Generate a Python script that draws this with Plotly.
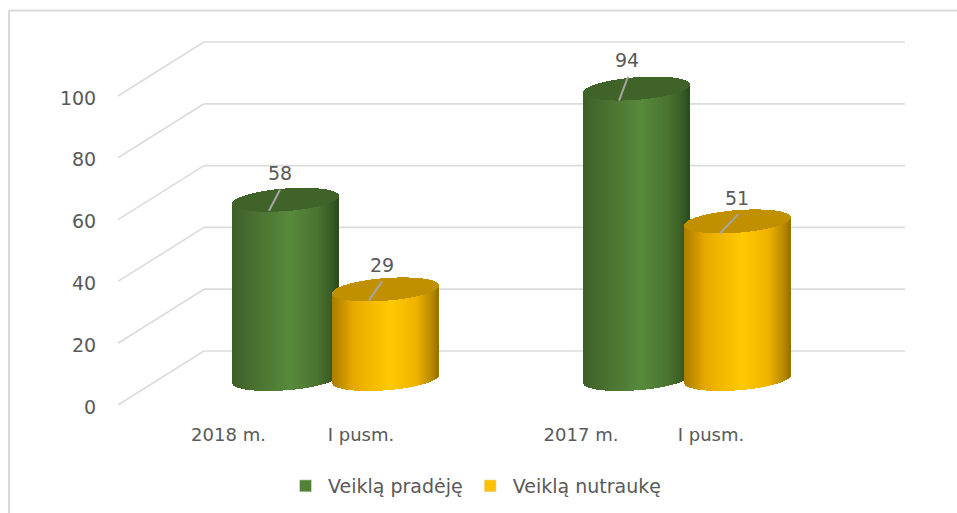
import numpy as np
import plotly.graph_objects as go

# ---- data ----
group_labels = ["2018 m.", "I pusm.", "2017 m.", "I pusm."]
value_ticks = [0, 20, 40, 60, 80, 100]
series_names = ["Veiklą pradėję", "Veiklą nutraukę"]
veikla_pradeje = [58, 94]
veikla_nutrauke = [29, 51]

# ---- geometry / style (figure pixels) ----
W, H = 957, 513
L, B = 104, 417
S = 3.09            # px per value unit
Y0 = 405            # px of value 0 at front of floor
WALL_DX, WALL_DY = 84, 54
CYL_FLOOR = 26.0    # px raised above front floor
A, b, SHEAR = 53, 11.3, 0.075
CENTERS = {"g": [286, 636.5], "y": [386, 737.5]}
LABEL_X = [228.5, 361, 581, 711]
GRID = "#dcdcdc"
TXT = "#595959"
FONT = "DejaVu Sans"
FS = 19


def stops(pts, t):
    ts, cols = zip(*pts)
    arr = np.array(cols, float)
    return [np.interp(t, ts, arr[:, i]) for i in range(3)]


GREEN_GRAD = [(-1, (62, 95, 42)), (-0.75, (70, 106, 46)), (0.1, (88, 138, 60)),
              (0.6, (74, 116, 48)), (0.9, (56, 90, 36)), (1, (46, 74, 30))]
YELLOW_GRAD = [(-1, (170, 125, 0)), (-0.6, (232, 170, 0)), (0.1, (255, 202, 0)),
               (0.6, (240, 178, 0)), (0.9, (180, 135, 0)), (1, (150, 112, 0))]
GREEN_TOP = "#3f6329"
YELLOW_TOP = "#c09000"

fig = go.Figure()

# gridlines: side wall + back wall, from the value ticks, beneath the cylinders
shapes = []
for v in value_ticks:
    back = v + WALL_DY / S
    for x0, y0, x1, y1 in [(118, v, 118 + WALL_DX + 2, back), (118 + WALL_DX + 2, back, 905, back)]:
        shapes.append(dict(type="line", xref="x", yref="y", layer="below",
                           x0=x0, y0=y0, x1=x1, y1=y1,
                           line=dict(color=GRID, width=1.7)))


def cylinder(cx, value, grad, top_color):
    t = (np.arange(-A, A) + 0.5) / A
    xs = cx + A * t
    half = b * np.sqrt(1 - t ** 2)
    shear = SHEAR * A * t          # right side higher, in px
    floor = CYL_FLOOR
    bot = (floor + shear - half) / S
    top_c = value + (floor + shear) / S
    low = top_c - half / S
    hi = top_c + half / S
    cols = ["rgb(%d,%d,%d)" % tuple(stops(grad, u)) for u in t]
    fig.add_trace(go.Bar(x=xs, base=bot, y=low - bot, width=1.25,
                         marker=dict(color=cols, line=dict(width=0)),
                         hoverinfo="skip", showlegend=False))
    fig.add_trace(go.Bar(x=xs, base=low, y=hi - low, width=1.25,
                         marker=dict(color=top_color, line=dict(width=0)),
                         hoverinfo="skip", showlegend=False))


def leader(cx, value, dx0, dy0, dx1, dy1, lx, ly):
    c = value + CYL_FLOOR / S
    fig.add_trace(go.Scatter(x=[cx + dx0, cx + dx1], y=[c - dy0 / S, c - dy1 / S],
                             mode="lines", line=dict(color="#a6a6a6", width=2),
                             hoverinfo="skip", showlegend=False))
    fig.add_trace(go.Scatter(x=[cx + lx], y=[c - ly / S], mode="text", text=[str(value)],
                             textfont=dict(family=FONT, size=FS, color=TXT),
                             hoverinfo="skip", showlegend=False))


for i in range(2):
    cylinder(CENTERS["g"][i], veikla_pradeje[i], GREEN_GRAD, GREEN_TOP)
    cylinder(CENTERS["y"][i], veikla_nutrauke[i], YELLOW_GRAD, YELLOW_TOP)

leader(CENTERS["g"][0], veikla_pradeje[0], -17, 11, -6, -10, -6, -25)
leader(CENTERS["y"][0], veikla_nutrauke[0], -17, 11, -4, -8, -4, -22)
leader(CENTERS["g"][1], veikla_pradeje[1], -17.5, 12, -8.5, -12, -9.5, -26)
leader(CENTERS["y"][1], veikla_nutrauke[1], -17.5, 12, 0.5, -7, -0.5, -21)

# legend entries
fig.add_trace(go.Bar(x=[None], y=[None], name=series_names[0], marker_color="#548235"))
fig.add_trace(go.Bar(x=[None], y=[None], name=series_names[1], marker_color="#ffc000"))

shapes += [
    dict(type="line", xref="paper", yref="paper",
         x0=(9 - L) / (W - L), x1=(9 - L) / (W - L), y0=(B - H) / B, y1=(B - 10) / B,
         line=dict(color="#d9d9d9", width=2)),
    dict(type="line", xref="paper", yref="paper",
         x0=(9 - L) / (W - L), x1=1, y0=(B - 10.5) / B, y1=(B - 10.5) / B,
         line=dict(color="#d9d9d9", width=2)),
]

fig.update_layout(
    width=W, height=H, autosize=False,
    margin=dict(l=L, r=0, t=0, b=H - B, pad=0),
    paper_bgcolor="white", plot_bgcolor="rgba(0,0,0,0)",
    barmode="overlay", bargap=0,
    font=dict(family=FONT, size=FS, color=TXT),
    xaxis=dict(range=[L, W], showgrid=False, zeroline=False, showline=False,
               tickmode="array", tickvals=LABEL_X, ticktext=group_labels,
               ticks="outside", ticklen=1, tickcolor="rgba(0,0,0,0)",
               tickfont=dict(family=FONT, size=18, color=TXT)),
    yaxis=dict(range=[(Y0 - B) / S, Y0 / S], showgrid=False, zeroline=False, showline=False,
               tickmode="array", tickvals=value_ticks,
               ticks="outside", ticklen=3, tickcolor="rgba(0,0,0,0)", ticklabelshift=2,
               tickfont=dict(family=FONT, size=FS, color=TXT)),
    legend=dict(orientation="h", x=(283 - L) / (W - L), y=(B - 467) / B, xanchor="left", yanchor="top",
                traceorder="normal", itemwidth=35,
                font=dict(family=FONT, size=FS, color=TXT), bgcolor="rgba(0,0,0,0)"),
    shapes=shapes,
)

fig.write_html("out.html", config=dict(displayModeBar=False),
               post_script="document.body.style.margin='0';document.body.style.overflow='hidden';")
